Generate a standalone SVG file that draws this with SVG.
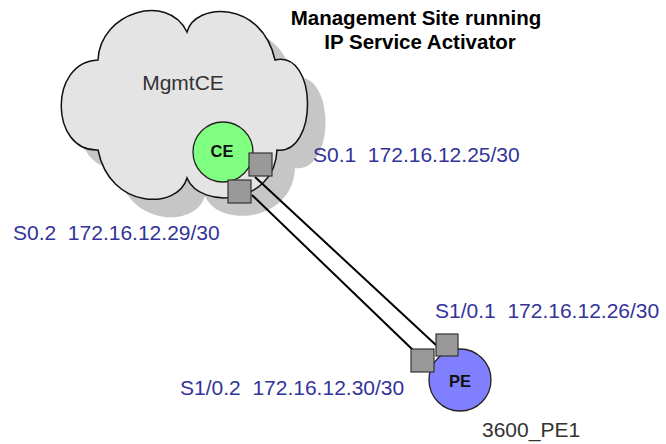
<svg xmlns="http://www.w3.org/2000/svg" width="666" height="444" viewBox="0 0 666 444">
<defs>
<style>
.ip{font-family:"Liberation Sans",Arial,sans-serif;font-size:21px;fill:#333399}
.lbl{font-family:"Liberation Sans",Arial,sans-serif;font-size:21px;fill:#333333}
.title{font-family:"Liberation Sans",Arial,sans-serif;font-size:20.5px;font-weight:bold;fill:#000;text-anchor:middle}
.node{font-family:"Liberation Sans",Arial,sans-serif;font-size:16.5px;font-weight:bold;fill:#111;text-anchor:middle}
.port{fill:#999999;stroke:#333333;stroke-width:1.2}
.link{stroke:#000;stroke-width:2;fill:none}
</style>
<path id="cloudShape" d="M98,60 C100,12 168,-8 187,32 C195,2 262,0 275,60 C318,50 318,155 277,150 C275,205 200,210 187,178 C178,210 110,210 98,150 C50,152 48,62 98,60 Z"/>
</defs>
<rect width="666" height="444" fill="#ffffff"/>
<g id="mgmt-cloud">
<use href="#cloudShape" transform="translate(18,18)" fill="#c6c6c6"/>
<use href="#cloudShape" fill="#e4e4e4" stroke="#111" stroke-width="1.5"/>
<text class="lbl" x="183" y="90" text-anchor="middle">MgmtCE</text>
</g>
<g id="title">
<text class="title" x="416" y="25">Management Site running</text>
<text class="title" x="420" y="49">IP Service Activator</text>
</g>
<g id="connectors">
<line class="link" x1="255" y1="177" x2="437" y2="346"/>
<line class="link" x1="252" y1="195" x2="414" y2="351"/>
</g>
<g id="CE">
<circle cx="223" cy="152" r="30" fill="#80ff80" stroke="#222" stroke-width="1.3"/>
<text class="node" x="222" y="157">CE</text>
</g>
<g id="CE-S0.1">
<rect class="port" x="249" y="153" width="23" height="23"/>
</g>
<g id="CE-S0.2">
<rect class="port" x="228" y="180" width="23" height="23"/>
</g>
<g id="PE">
<circle cx="460" cy="380" r="31" fill="#8080ff" stroke="#222" stroke-width="1.3"/>
<text class="node" x="460" y="387">PE</text>
</g>
<g id="PE-S1-0.1">
<rect class="port" x="436" y="334" width="22" height="22"/>
</g>
<g id="PE-S1-0.2">
<rect class="port" x="411" y="349" width="23" height="23"/>
</g>
<g id="labels">
<text class="ip" x="313" y="162" xml:space="preserve">S0.1  172.16.12.25/30</text>
<text class="ip" x="13" y="240" xml:space="preserve">S0.2  172.16.12.29/30</text>
<text class="ip" x="435" y="318" xml:space="preserve">S1/0.1  172.16.12.26/30</text>
<text class="ip" x="180" y="395" xml:space="preserve">S1/0.2  172.16.12.30/30</text>
<text class="lbl" x="482" y="437">3600_PE1</text>
</g>
</svg>
